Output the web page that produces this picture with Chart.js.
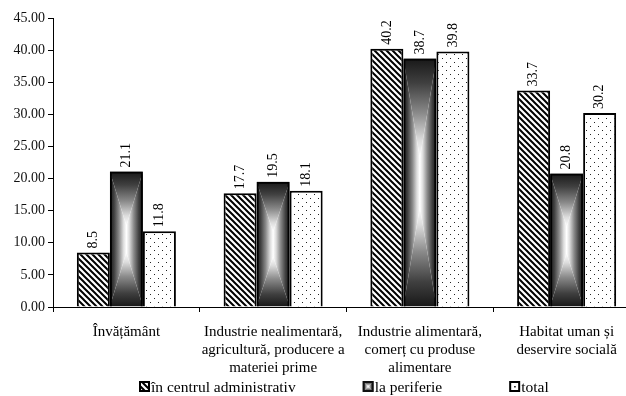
<!DOCTYPE html>
<html>
<head>
<meta charset="utf-8">
<script src="https://cdn.jsdelivr.net/npm/chart.js@4.4.1/dist/chart.umd.min.js"></script>
<style>
  html, body { margin: 0; padding: 0; background: #fff; overflow: hidden; }
  #wrap { width: 626px; height: 396px; overflow: hidden; }
</style>
</head>
<body>
<div id="wrap"><canvas id="chart" width="642" height="396"></canvas></div>
<script>
// --- DATA ---
const categories = [
    'Învățământ',
    ['Industrie nealimentară,', 'agricultură, producere a', 'materiei prime'],
    ['Industrie alimentară,', 'comerț cu produse', 'alimentare'],
    ['Habitat uman și', 'deservire socială']
];
const seriesNames = ['în centrul administrativ', 'la periferie', 'total'];
const centruValues = [8.5, 17.7, 40.2, 33.7];
const periferieValues = [21.1, 19.5, 38.7, 20.8];
const totalValues = [11.8, 18.1, 39.8, 30.2];
const yMin = 0;
const yMax = 45;
const yStep = 5;

const FONT = "'Liberation Serif', 'Times New Roman', serif";
// edge -> centre of the "from centre" gradient of the middle series
const GRAD_STOPS = [[0, '#181818'], [0.25, '#404040'], [0.55, '#8a8a8a'], [0.82, '#dcdcdc'], [1, '#ffffff']];

const canvas = document.getElementById('chart');
const ctx = canvas.getContext('2d');

function makeHatch() {
    const c = document.createElement('canvas');
    c.width = 6; c.height = 6;
    const g = c.getContext('2d');
    g.fillStyle = '#fff';
    g.fillRect(0, 0, 6, 6);
    g.strokeStyle = '#000';
    g.lineWidth = 2;
    g.beginPath();
    g.moveTo(-1, -1); g.lineTo(7, 7);
    g.moveTo(-1, 5); g.lineTo(1, 7);
    g.moveTo(5, -1); g.lineTo(7, 1);
    g.stroke();
    return ctx.createPattern(c, 'repeat');
}

function makeDots() {
    const c = document.createElement('canvas');
    c.width = 8; c.height = 8;
    const g = c.getContext('2d');
    g.fillStyle = '#fff';
    g.fillRect(0, 0, 8, 8);
    g.fillStyle = '#222';
    g.fillRect(2, 2, 1, 1);
    g.fillRect(6, 6, 1, 1);
    return ctx.createPattern(c, 'repeat');
}

// side ramps + top/bottom ramps meeting on a short centre line (hourglass look)
function boxGradient(c, l, t, w, h) {
    const cx = l + w / 2, r = l + w, b = t + h;
    const k = Math.max(h * 0.4, Math.min(w / 2, h / 2));
    const poly = (pts, g) => {
        GRAD_STOPS.forEach(([o, col]) => g.addColorStop(o, col));
        c.fillStyle = g;
        c.beginPath();
        c.moveTo(pts[0], pts[1]);
        for (let i = 2; i < pts.length; i += 2) c.lineTo(pts[i], pts[i + 1]);
        c.closePath();
        c.fill();
    };
    c.save();
    c.beginPath();
    c.rect(l, t, w, h);
    c.clip();
    poly([l, t, cx, t + k, cx, b - k, l, b], c.createLinearGradient(l, 0, cx, 0));
    poly([r, t, cx, t + k, cx, b - k, r, b], c.createLinearGradient(r, 0, cx, 0));
    poly([l, t, r, t, cx, t + k], c.createLinearGradient(0, t, 0, t + k));
    poly([l, b, r, b, cx, b - k], c.createLinearGradient(0, b, 0, b - k));
    c.restore();
}

const hatch = makeHatch();
const dots = makeDots();

const barDecor = {
    id: 'barDecor',
    beforeDatasetDraw(chart, args) {
        if (args.index !== 1) return;
        args.meta.data.forEach(bar => {
            const { x, y, base, width } = bar.getProps(['x', 'y', 'base', 'width'], true);
            boxGradient(chart.ctx, x - width / 2, Math.min(y, base), width, Math.abs(base - y));
        });
    },
    afterDatasetsDraw(chart) {
        const c = chart.ctx;
        chart.data.datasets.forEach((ds, i) => {
            chart.getDatasetMeta(i).data.forEach((bar, j) => {
                c.save();
                c.translate(bar.x, bar.y - 4);
                c.rotate(-Math.PI / 2);
                c.font = '14px ' + FONT;
                c.fillStyle = '#000';
                c.textAlign = 'left';
                c.textBaseline = 'middle';
                c.fillText(ds.data[j].toFixed(1), 0, 0);
                c.restore();
            });
        });
    },
    afterDraw(chart) {
        // legend
        const c = chart.ctx;
        const top = 381, size = 11;
        let x = 139;
        c.save();
        c.font = '15.5px ' + FONT;
        c.textBaseline = 'alphabetic';
        c.textAlign = 'left';
        seriesNames.forEach((name, i) => {
            if (i === 0) {
                c.fillStyle = hatch;
                c.fillRect(x, top, size, size);
                c.strokeStyle = '#000';
            } else if (i === 1) {
                boxGradient(c, x, top, size, size);
                c.strokeStyle = '#111';
            } else {
                c.fillStyle = '#fff';
                c.fillRect(x, top, size, size);
                c.fillStyle = '#000';
                c.fillRect(x + 5, top + 5, 1.5, 1.5);
                c.strokeStyle = '#000';
            }
            c.lineWidth = 2;
            c.strokeRect(x + 1, top + 1, size - 2, size - 2);
            c.fillStyle = '#000';
            c.fillText(name, x + size + 1, top + 11);
            x += size + 1 + c.measureText(name).width + 67;
        });
        c.restore();
    }
};

new Chart(ctx, {
    type: 'bar',
    data: {
        labels: categories,
        datasets: [
            { label: seriesNames[0], data: centruValues, backgroundColor: hatch },
            { label: seriesNames[1], data: periferieValues, backgroundColor: 'rgba(0,0,0,0)' },
            { label: seriesNames[2], data: totalValues, backgroundColor: dots }
        ]
    },
    options: {
        responsive: false,
        animation: false,
        layout: { padding: { top: 18, right: 2, left: 0, bottom: 0 } },
        datasets: {
            bar: {
                borderColor: '#000',
                borderWidth: 2,
                categoryPercentage: 0.675,
                barPercentage: 1
            }
        },
        plugins: {
            legend: { display: false },
            tooltip: { enabled: false }
        },
        scales: {
            x: {
                grid: { drawOnChartArea: false, drawTicks: true, tickLength: 5, color: '#000', offset: true },
                border: { color: '#000', width: 1 },
                ticks: {
                    color: '#000',
                    font: { family: FONT, size: 15, lineHeight: 1.2 },
                    padding: 11,
                    maxRotation: 0,
                    autoSkip: false
                },
                afterFit(s) { s.height = 89; }
            },
            y: {
                min: yMin,
                max: yMax,
                grid: { drawOnChartArea: false, drawTicks: true, tickLength: 5, color: '#000' },
                border: { color: '#000', width: 1 },
                ticks: {
                    stepSize: yStep,
                    color: '#111',
                    font: { family: FONT, size: 14 },
                    padding: 3,
                    callback: v => v.toFixed(2)
                },
                afterFit(s) { s.width = 53; }
            }
        }
    },
    plugins: [barDecor]
});
</script>
</body>
</html>
